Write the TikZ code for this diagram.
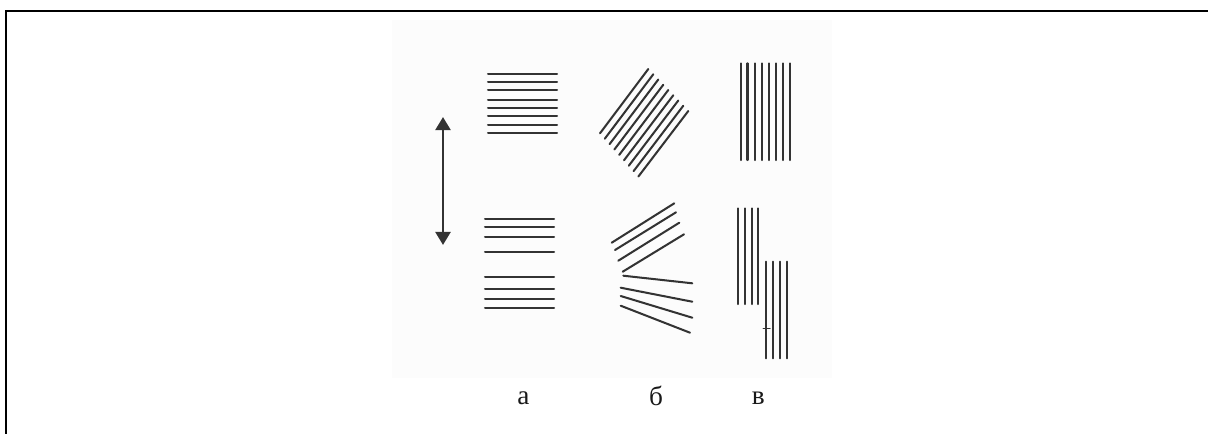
\documentclass[tikz,border=0pt]{standalone}
\usepackage{fontspec}
\setmainfont{Liberation Serif}
\usetikzlibrary{arrows.meta}
\begin{document}
\begin{tikzpicture}[x=0.02cm,y=-0.02cm,
  stroke/.style={draw=black!80,line width=1.15pt,line cap=round},
  frame/.style={draw=black,line width=1.4pt},
  lbl/.style={font=\fontsize{15.5}{18}\selectfont,inner sep=0pt,text=black!90},
  dbl/.style={draw=black!80,line width=1.7pt,{Triangle[width=8.5pt,length=7.5pt]}-{Triangle[width=8.5pt,length=7.5pt]}}]
\useasboundingbox (0,0) rectangle (1208,434);
% faint scan background
\fill[black!1] (392,20) rectangle (832,378);
% frame
\draw[frame] (1208,11) -- (6,11) -- (6,434);
% double arrow
\coordinate (atop) at (443,117);
\coordinate (abot) at (443,245);
\draw[dbl] (atop) -- (abot);
% group a, top
\foreach \y in {74.3,82.3,90,100,108.3,116,125,133.3}
  \draw[stroke] (488,\y) -- (557,\y);
% group a, bottom
\foreach \y in {219,227.3,237.3,252,277.3,289,299.3,308.3}
  \draw[stroke] (485,\y) -- (554,\y);
% group b, top (rotated lines)
\foreach \i in {0,...,8}
  \draw[stroke] ({600+4.8*\i},{133.3+5.4*\i}) -- ({648.3+5*\i},{69+5.25*\i});
% group b, bottom fan
\draw[stroke] (611.7,242.7) -- (674.3,203.3);
\draw[stroke] (615,250) -- (676,212.3);
\draw[stroke] (618.3,260.7) -- (679.3,222.7);
\draw[stroke] (622.7,271.7) -- (684,234.3);
\draw[stroke] (623.3,275.7) -- (692.3,283.3);
\draw[stroke] (620.7,287.7) -- (692.3,301.7);
\draw[stroke] (620.7,296) -- (692.3,317.7);
\draw[stroke] (620.7,305.7) -- (690,332.7);
% group v, top
\foreach \x in {740.7,747.5,754.7,762.2,769.2,775.8,783,789.7}
  \draw[stroke] (\x,63.3) -- (\x,160);
% group v, bottom
\foreach \x in {738.3,745,751.7,758.3}
  \draw[stroke] (\x,208.3) -- (\x,304);
\foreach \x in {766,772.7,780,786.7}
  \draw[stroke] (\x,261.7) -- (\x,358.3);
\draw[stroke,line width=0.8pt] (763.3,328.3) -- (770,328.3);
% labels
\node[lbl] (la) at (523.3,398.5) {а};
\node[lbl] (lb) at (656,396) {б};
\node[lbl] (lv) at (758.3,398.5) {в};
\end{tikzpicture}
\end{document}
